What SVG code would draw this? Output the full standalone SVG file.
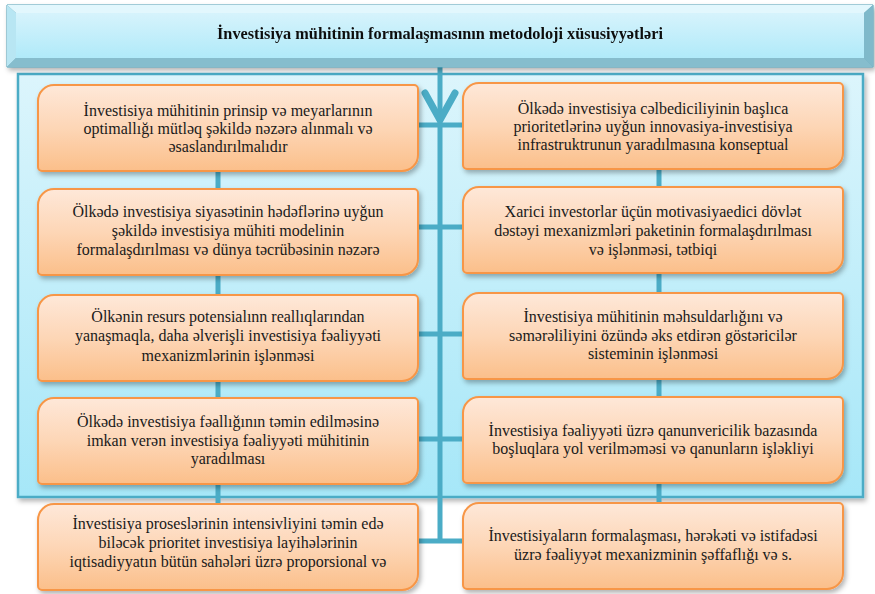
<svg xmlns="http://www.w3.org/2000/svg" xmlns:xlink="http://www.w3.org/1999/xlink" width="875" height="594" viewBox="0 0 875 594">
<defs>
<linearGradient id="gBox" x1="0" y1="0" x2="0" y2="1">
<stop offset="0" stop-color="#FEE8D9"/>
<stop offset="0.5" stop-color="#FDD6B6"/>
<stop offset="1" stop-color="#FBBF8A"/>
</linearGradient>
<linearGradient id="gPanel" x1="0" y1="0" x2="0" y2="1">
<stop offset="0" stop-color="#DCF5FC"/>
<stop offset="1" stop-color="#A6E7F8"/>
</linearGradient>
<linearGradient id="gTitle" x1="0" y1="0" x2="0" y2="1">
<stop offset="0" stop-color="#D6F3FC"/>
<stop offset="1" stop-color="#B0EAF9"/>
</linearGradient>
<filter id="sh" x="-5%" y="-10%" width="112%" height="130%">
<feDropShadow dx="2" dy="3" stdDeviation="2.5" flood-color="#000" flood-opacity="0.3"/>
</filter>
<path id="shape" d="M16,0 H376 A4,4 0 0 1 380,4 V70 A16,16 0 0 1 364,86 H4 A4,4 0 0 1 0,82 V16 A16,16 0 0 1 16,0 Z"/>
</defs>
<style>
.box{fill:url(#gBox);stroke:#F79646;stroke-width:2;filter:url(#sh)}
.t{font-family:"Liberation Serif","Times New Roman",serif;font-size:16px;fill:#1A1A1A;text-anchor:middle}
.ln{stroke:#4BACC6;stroke-width:5;fill:none}
</style>

<g id="panel">
<rect x="18" y="74" width="845" height="423" fill="url(#gPanel)" stroke="#4BACC6" stroke-width="2.5" filter="url(#sh)"/>
</g>

<g id="connectors">
<line class="ln" x1="440" y1="64" x2="440" y2="543"/>
<line class="ln" x1="218" y1="170" x2="218" y2="504"/>
<line class="ln" x1="659" y1="169" x2="659" y2="503"/>
<line class="ln" x1="416" y1="125" x2="465" y2="125"/>
<line class="ln" x1="416" y1="227" x2="465" y2="227"/>
<line class="ln" x1="416" y1="334" x2="465" y2="334"/>
<line class="ln" x1="416" y1="439" x2="465" y2="439"/>
<line class="ln" x1="416" y1="541" x2="465" y2="541"/>
<polyline points="425,93 440,120 455,93" fill="none" stroke="#4BACC6" stroke-width="7" stroke-linecap="round" stroke-linejoin="round"/>
</g>

<g id="title" filter="url(#sh)">
<polygon points="7,5 873,5 873,67 7,67" fill="#6FA9BA" stroke="#4A9DB5" stroke-width="1"/>
<polygon points="7,5 873,5 864,13 16,13" fill="#E2F7FD"/>
<polygon points="7,5 16,13 16,58 7,67" fill="#B8E6F3"/>
<polygon points="873,5 864,13 864,58 873,67" fill="#7FB9CA"/>
<polygon points="7,67 16,58 864,58 873,67" fill="#86BDCD"/>
<rect x="16" y="13" width="848" height="45" fill="url(#gTitle)"/>
<text x="440" y="39" font-family="'Liberation Serif','Times New Roman',serif" font-size="16.5" font-weight="bold" fill="#111" text-anchor="middle" textLength="446" lengthAdjust="spacingAndGlyphs">İnvestisiya mühitinin formalaşmasının metodoloji xüsusiyyətləri</text>
</g>

<g id="L1"><use xlink:href="#shape" class="box" x="38" y="85"/>
<text class="t" x="228" y="116">İnvestisiya mühitinin prinsip və meyarlarının</text>
<text class="t" x="228" y="134">optimallığı mütləq şəkildə nəzərə alınmalı və</text>
<text class="t" x="228" y="152">əsaslandırılmalıdır</text></g>

<g id="L2"><use xlink:href="#shape" class="box" x="38" y="189"/>
<text class="t" x="228" y="217">Ölkədə investisiya siyasətinin hədəflərinə uyğun</text>
<text class="t" x="228" y="236">şəkildə investisiya mühiti modelinin</text>
<text class="t" x="228" y="255">formalaşdırılması və dünya təcrübəsinin nəzərə</text></g>

<g id="L3"><use xlink:href="#shape" class="box" x="38" y="295"/>
<text class="t" x="228" y="322">Ölkənin resurs potensialınn reallıqlarından</text>
<text class="t" x="228" y="341">yanaşmaqla, daha əlverişli investisiya fəaliyyəti</text>
<text class="t" x="228" y="361">mexanizmlərinin işlənməsi</text></g>

<g id="L4"><use xlink:href="#shape" class="box" x="38" y="398"/>
<text class="t" x="228" y="427">Ölkədə investisiya fəallığının təmin edilməsinə</text>
<text class="t" x="228" y="446">imkan verən investisiya fəaliyyəti mühitinin</text>
<text class="t" x="228" y="464">yaradılması</text></g>

<g id="L5"><use xlink:href="#shape" class="box" x="38" y="504"/>
<text class="t" x="228" y="529">İnvestisiya proseslərinin intensivliyini təmin edə</text>
<text class="t" x="228" y="548">biləcək prioritet investisiya layihələrinin</text>
<text class="t" x="228" y="567">iqtisadiyyatın bütün sahələri üzrə proporsional və</text></g>

<g id="R1"><use xlink:href="#shape" class="box" x="463" y="83"/>
<text class="t" x="653" y="114">Ölkədə investisiya cəlbediciliyinin başlıca</text>
<text class="t" x="653" y="132">prioritetlərinə uyğun innovasiya-investisiya</text>
<text class="t" x="653" y="150">infrastruktrunun yaradılmasına konseptual</text></g>

<g id="R2"><use xlink:href="#shape" class="box" x="463" y="187"/>
<text class="t" x="653" y="217">Xarici investorlar üçün motivasiyaedici dövlət</text>
<text class="t" x="653" y="236">dəstəyi mexanizmləri paketinin formalaşdırılması</text>
<text class="t" x="653" y="255">və işlənməsi, tətbiqi</text></g>

<g id="R3"><use xlink:href="#shape" class="box" x="463" y="293"/>
<text class="t" x="653" y="322">İnvestisiya mühitinin məhsuldarlığını və</text>
<text class="t" x="653" y="341">səmərəliliyini özündə əks etdirən göstəricilər</text>
<text class="t" x="653" y="359">sisteminin işlənməsi</text></g>

<g id="R4"><use xlink:href="#shape" class="box" x="463" y="397"/>
<text class="t" x="653" y="436">İnvestisiya fəaliyyəti üzrə qanunvericilik bazasında</text>
<text class="t" x="653" y="454">boşluqlara yol verilməməsi və qanunların işləkliyi</text></g>

<g id="R5"><use xlink:href="#shape" class="box" x="463" y="503"/>
<text class="t" x="653" y="541">İnvestisiyaların formalaşması, hərəkəti və istifadəsi</text>
<text class="t" x="653" y="560">üzrə fəaliyyət mexanizminin şəffaflığı və s.</text></g>
</svg>
